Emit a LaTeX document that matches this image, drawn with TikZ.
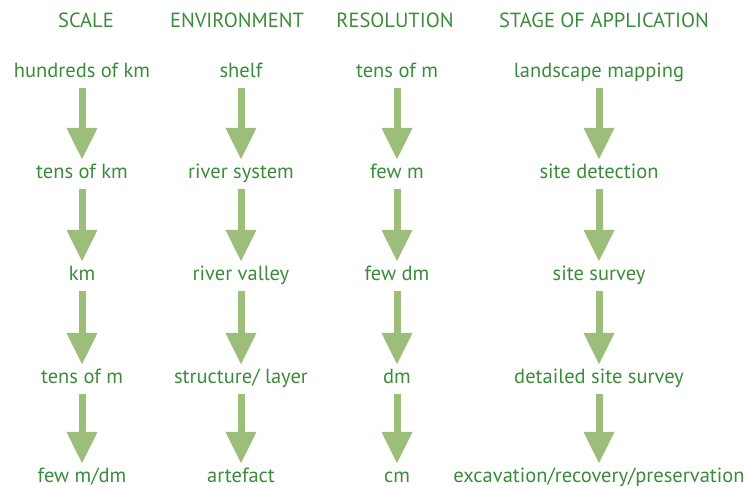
\documentclass[tikz,border=0pt]{standalone}
\usepackage{fontspec}
\setmainfont{PT Sans}
\usepackage{tikz}
\usetikzlibrary{arrows.meta,positioning}
\definecolor{txtgreen}{HTML}{3B8B3B}
\definecolor{arrgreen}{HTML}{9DBE7B}
\tikzset{
  lab/.style={font=\fontsize{20.5}{22}\selectfont,text=txtgreen,inner sep=1pt,
    text height=15pt,text depth=5pt,anchor=center},
  hdr/.style={lab},
  bigarr/.style={-{Triangle[length=32pt,width=29pt]},draw=arrgreen,line width=7pt,shorten <=5pt,shorten >=2pt},
}
\begin{document}
\begin{tikzpicture}[x=1pt,y=-1pt]
\useasboundingbox (0,0) rectangle (747,488);
% column heads
\node[hdr] (hs) at (86,22) {SCALE};
\node[hdr] (he) at (237,22) {ENVIRONMENT};
\node[hdr] (hr) at (395,22) {RESOLUTION};
\node[hdr] (ha) at (604,22) {STAGE OF APPLICATION};
% scale
\node[lab] (s1) at (82,72) {hundreds of km};
\node[lab] (s2) at (82,173) {tens of km};
\node[lab] (s3) at (82,275) {km};
\node[lab] (s4) at (82,378) {tens of m};
\node[lab] (s5) at (82,477) {few m/dm};
% environment
\node[lab] (e1) at (241,72) {shelf};
\node[lab] (e2) at (241,173) {river system};
\node[lab] (e3) at (241,275) {river valley};
\node[lab] (e4) at (241,378) {structure/ layer};
\node[lab] (e5) at (241,477) {artefact};
% resolution
\node[lab] (r1) at (397,72) {tens of m};
\node[lab] (r2) at (397,173) {few m};
\node[lab] (r3) at (397,275) {few dm};
\node[lab] (r4) at (397,378) {dm};
\node[lab] (r5) at (397,477) {cm};
% stage of application
\node[lab] (a1) at (599,72) {landscape mapping};
\node[lab] (a2) at (599,173) {site detection};
\node[lab] (a3) at (599,275) {site survey};
\node[lab] (a4) at (599,378) {detailed site survey};
\node[lab] (a5) at (599,477) {excavation/recovery/preservation};
% arrows
\foreach \c in {s,e,r,a}{
  \foreach \i/\j in {1/2,2/3,3/4,4/5}{
    \draw[bigarr] (\c\i.south) -- (\c\j.north);
  }
}
\end{tikzpicture}
\end{document}
